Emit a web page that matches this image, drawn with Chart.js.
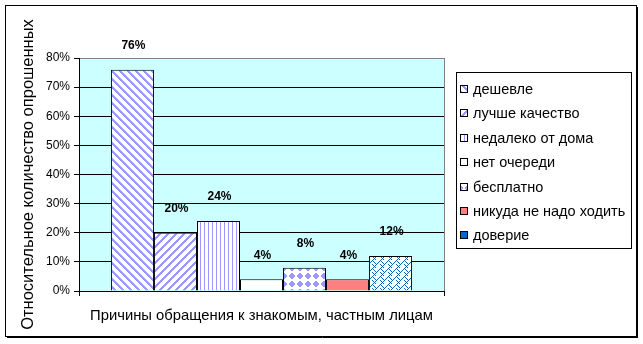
<!DOCTYPE html>
<html>
<head>
<meta charset="utf-8">
<script src="https://cdn.jsdelivr.net/npm/chart.js@4.4.0/dist/chart.umd.min.js"></script>
<style>
  html, body { margin: 0; padding: 0; background: #fff; }
  canvas { display: block; }
</style>
</head>
<body>
<canvas id="chart" width="643" height="344"></canvas>
<script>
// Chart data
const categories = [''];
const seriesNames = ['дешевле', 'лучше качество', 'недалеко от дома', 'нет очереди', 'бесплатно', 'никуда не надо ходить', 'доверие'];
const seriesValues = [76, 20, 24, 4, 8, 4, 12];
const yTickMax = 80;
const yTickStep = 10;
const xTitle = 'Причины обращения к знакомым, частным лицам';
const yTitle = 'Относительное количество опрошенных';

const FONT = 'Arial, "Liberation Sans", sans-serif';
const canvas = document.getElementById('chart');
const ctx = canvas.getContext('2d');

// Build small pixel patterns like the old office fills
function pixelPattern(size, fg, test) {
  const c = document.createElement('canvas');
  c.width = c.height = size;
  const g = c.getContext('2d');
  g.fillStyle = '#fff';
  g.fillRect(0, 0, size, size);
  g.fillStyle = fg;
  for (let y = 0; y < size; y++) {
    for (let x = 0; x < size; x++) {
      if (test(x, y)) g.fillRect(x, y, 1, 1);
    }
  }
  return ctx.createPattern(c, 'repeat');
}

const lilac = '#9999FF';
const fills = [
  pixelPattern(8, lilac, (x, y) => ((x - y + 16) % 8) < 3),
  pixelPattern(8, lilac, (x, y) => ((x + y) % 8) < 3),
  pixelPattern(4, lilac, (x, y) => x === 0),
  '#FFFFFF',
  pixelPattern(8, lilac, (x, y) => Math.abs(x - 3.5) + Math.abs(y - 3.5) <= 3),
  '#FF8080',
  pixelPattern(8, '#0066CC', (x, y) => ((x + y) % 8) === 0 || (((x - y + 16) % 8) === 4 && y < 4) || (((x - y + 16) % 8) === 0 && y >= 4))
];
const legendFills = fills.slice(0, 6).concat(['#0066CC']);

// Background, plot area and outer frame
const backdrop = {
  id: 'backdrop',
  beforeDraw(chart) {
    const c = chart.ctx, a = chart.chartArea;
    c.save();
    c.fillStyle = '#fff';
    c.fillRect(0, 0, chart.width, chart.height);
    c.fillStyle = '#CCFFFF';
    c.fillRect(a.left, a.top, a.right - a.left, a.bottom - a.top);
    c.strokeStyle = '#000';
    c.lineWidth = 1;
    c.strokeRect(5.5, 5.5, 631, 331);
    c.beginPath();
    c.moveTo(637.5, 7); c.lineTo(637.5, 338);
    c.moveTo(7, 337.5); c.lineTo(638, 337.5);
    c.stroke();
    c.restore();
  }
};

// Value labels above the bars
const valueLabels = {
  id: 'valueLabels',
  afterDatasetsDraw(chart) {
    const c = chart.ctx;
    c.save();
    c.fillStyle = '#000';
    c.font = 'bold 12px ' + FONT;
    c.textAlign = 'center';
    c.textBaseline = 'middle';
    chart.data.datasets.forEach((ds, i) => {
      const bar = chart.getDatasetMeta(i).data[0];
      c.fillText(ds.data[0] + '%', bar.x + 1, bar.y - 24);
    });
    c.restore();
  }
};

// Boxed legend on the right
const boxLegend = {
  id: 'boxLegend',
  afterDraw(chart) {
    const c = chart.ctx;
    const left = chart.chartArea.right + 12, top = 72, w = 175, h = 176;
    c.save();
    c.fillStyle = '#fff';
    c.fillRect(left, top, w, h);
    c.strokeStyle = '#000';
    c.lineWidth = 1;
    c.strokeRect(left + 0.5, top + 0.5, w, h);
    c.font = '14.5px ' + FONT;
    c.textBaseline = 'middle';
    chart.data.datasets.forEach((ds, i) => {
      const y = top + 17 + i * 24.4;
      const iy = Math.round(y) - 4;
      c.fillStyle = legendFills[i];
      c.fillRect(left + 4, iy, 8, 8);
      c.strokeRect(left + 4.5, iy + 0.5, 7, 7);
      c.fillStyle = '#000';
      c.fillText(ds.label, left + 17, y + 1);
    });
    c.restore();
  }
};

new Chart(ctx, {
  type: 'bar',
  data: {
    labels: categories,
    datasets: seriesNames.map((name, i) => ({
      label: name,
      data: [seriesValues[i]],
      backgroundColor: fills[i],
      borderColor: '#000',
      borderWidth: 1,
      categoryPercentage: 0.825,
      barPercentage: 1
    }))
  },
  options: {
    responsive: false,
    animation: false,
    events: [],
    layout: { padding: { left: 0, top: 58, right: 199, bottom: 0 } },
    plugins: { legend: { display: false }, tooltip: { enabled: false } },
    scales: {
      x: {
        grid: {
          offset: true,
          color: c => c.index === 0 ? 'rgba(0,0,0,0)' : '#808080',
          tickColor: '#000',
          tickLength: 5
        },
        border: { color: '#000' },
        ticks: { display: false },
        title: {
          display: true, text: xTitle, color: '#000',
          font: { family: FONT, size: 14.8 },
          padding: { top: 0, bottom: 19 }
        },
        afterFit: s => { s.height = 53; }
      },
      y: {
        min: 0,
        max: yTickMax,
        ticks: {
          stepSize: yTickStep,
          callback: v => v + '%',
          color: '#000',
          font: { family: FONT, size: 12 },
          padding: 4
        },
        grid: {
          color: c => (c.tick && c.tick.value === yTickMax) ? '#808080' : '#000',
          tickColor: '#000',
          tickLength: 5
        },
        border: { color: '#000' },
        title: {
          display: true, text: yTitle, color: '#000',
          font: { family: FONT, size: 16.5 },
          padding: { top: 19, bottom: 0 }
        },
        afterFit: s => { s.width = 79; }
      }
    }
  },
  plugins: [backdrop, valueLabels, boxLegend]
});
</script>
</body>
</html>
